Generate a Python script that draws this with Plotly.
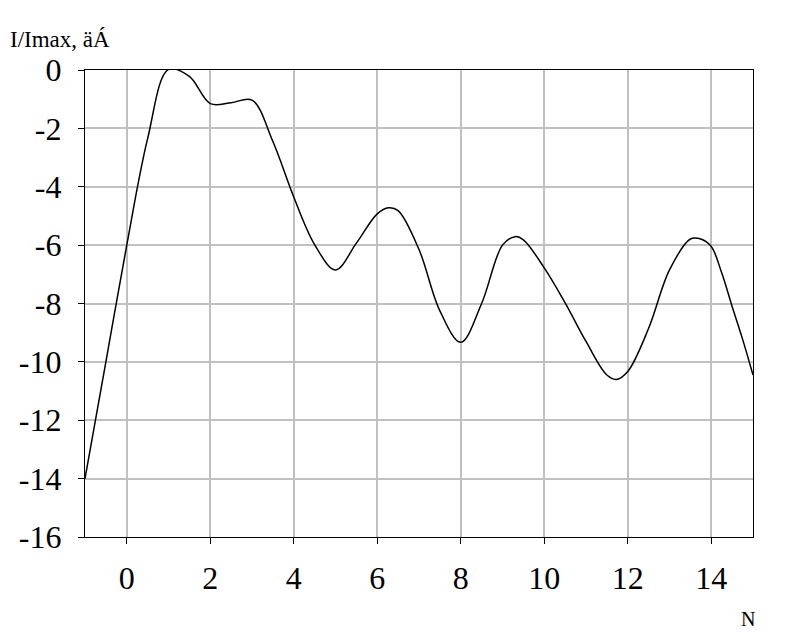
import plotly.graph_objects as go

# Data
n_values = [-1, -0.5, 0, 0.5, 1.0, 1.5, 2.0, 2.5, 3.0, 3.5, 4.0, 4.5, 5.0, 5.5,
            6.0, 6.27, 6.5, 7.0, 7.5, 8.0, 8.5, 9.0, 9.3, 9.5, 10.0, 10.5, 11.0, 11.5,
            11.73, 12.0, 12.5, 13.0, 13.5, 13.75, 14.0, 14.25, 14.5, 14.75, 15.0]
i_values = [-14, -10, -6, -2.35, 0.02, -0.22, -1.15, -1.12, -1.03, -2.45, -4.35,
            -5.98, -6.85, -5.93, -4.93, -4.72, -4.82, -6.15, -8.25, -9.33, -8.0, -6.0,
            -5.71, -5.82, -6.78, -7.98, -9.3, -10.45, -10.6, -10.33, -8.85, -6.85, -5.79,
            -5.79, -6.05, -6.95, -8.1, -9.22, -10.45]

x_ticks = [0, 2, 4, 6, 8, 10, 12, 14]
y_ticks = [0, -2, -4, -6, -8, -10, -12, -14, -16]

font_family = "Liberation Serif"

fig = go.Figure()
fig.add_trace(go.Scatter(
    x=n_values, y=i_values, mode="lines",
    line=dict(color="black", width=1.5, shape="spline", smoothing=1.0),
    showlegend=False, hoverinfo="skip",
))

fig.update_layout(
    width=781, height=626,
    margin=dict(l=77, r=36, t=62, b=97),
    paper_bgcolor="white", plot_bgcolor="white",
    font=dict(family=font_family, color="black", size=32),
    xaxis=dict(
        range=[-1, 15], tickvals=x_ticks, ticktext=[str(v) for v in x_ticks],
        showgrid=True, gridcolor="#c0c0c0", gridwidth=1.5, zeroline=False,
        showline=True, linecolor="black", linewidth=1.2, mirror=True,
        ticks="outside", ticklen=6, tickcolor="black", tickwidth=1,
        ticklabelstandoff=6, automargin=False,
        tickfont=dict(family=font_family, size=32, color="black"),
    ),
    yaxis=dict(
        range=[-16, 0], tickvals=y_ticks, ticktext=[str(v) for v in y_ticks],
        showgrid=True, gridcolor="#c0c0c0", gridwidth=1.5, zeroline=False,
        showline=True, linecolor="black", linewidth=1.2, mirror=True,
        ticks="outside", ticklen=6, tickcolor="black", tickwidth=1,
        ticklabelstandoff=10, automargin=False,
        tickfont=dict(family=font_family, size=32, color="black"),
    ),
    annotations=[
        dict(text="I/Imax, äÁ", xref="paper", yref="paper",
             x=-77 / 668, y=(537 - 40) / 467, xanchor="left", yanchor="middle",
             showarrow=False, font=dict(family=font_family, size=23, color="black")),
        dict(text="N", xref="paper", yref="paper",
             x=(748 - 85) / 668, y=(537 - 619) / 467, xanchor="center", yanchor="middle",
             showarrow=False, font=dict(family=font_family, size=20, color="black")),
    ],
)

fig.write_html("out.html")
